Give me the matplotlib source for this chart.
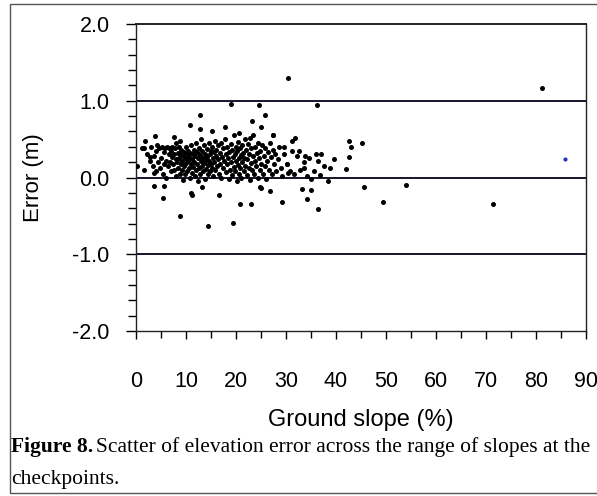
import matplotlib
matplotlib.use("Agg")
import matplotlib.pyplot as plt
from matplotlib.ticker import MultipleLocator, FormatStrFormatter
from matplotlib.patches import Rectangle

# Ground slope (%) and elevation error (m) at the checkpoints
slope = [
    30.3, 81.1, 18.9, 24.6, 36.2, 12.7, 25.8, 10.7, 25.0, 23.1,
    17.8, 12.8, 27.4, 31.8, 3.7, 7.5, 42.5, 45.1, 43.0, 31.2,
    29.6, 32.6, 37.0, 39.6, 42.6, 41.9, 38.8, 36.3, 33.7, 33.5,
    38.3, 45.6, 54.0, 49.4, 71.3, 36.4, 34.1, 34.9, 33.1, 29.2,
    26.7, 25.0, 23.0, 20.8, 19.4, 14.3, 8.7, 16.5, 10.9, 5.3,
    3.5, 0.2, 1.6, 1.2, 3.5, 1.5, 2.8, 11.1, 13.1, 24.8,
    15.1, 20.5, 22.7, 27.3, 1.7, 8.8, 30.1, 5.5,
    2.2, 2.8, 3.0, 3.3, 3.6, 3.9, 4.0, 4.2, 4.4,
    4.6, 4.8, 5.0, 5.1, 5.3, 5.5, 5.6, 5.8, 5.9, 6.0,
    6.2, 6.3, 6.5, 6.6, 6.8, 6.9, 7.0, 7.1,
    7.2, 7.4, 7.5, 7.6, 7.8, 7.9, 8.0, 8.0,
    8.2, 8.3, 8.4, 8.5, 8.6, 8.7, 8.8, 8.9, 9.0,
    9.1, 9.2, 9.3, 9.4, 9.5, 9.6, 9.7, 9.8, 9.9, 10.0,
    10.1, 10.2, 10.3, 10.4, 10.5, 10.6, 10.7, 10.8, 10.9, 11.0,
    11.1, 11.2, 11.3, 11.4, 11.5, 11.6, 11.7, 11.8, 11.9, 12.0,
    12.1, 12.2, 12.3, 12.4, 12.5, 12.6, 12.7, 12.8, 12.9, 13.0,
    13.1, 13.2, 13.3, 13.4, 13.5, 13.6, 13.7, 13.8, 13.9, 14.0,
    14.1, 14.2, 14.3, 14.4, 14.5, 14.6, 14.7, 14.8, 14.9, 15.0,
    15.1, 15.2, 15.3, 15.4, 15.5, 15.6, 15.7, 15.8, 15.9, 16.0,
    16.1, 16.3, 16.4, 16.5, 16.7, 16.8, 16.9, 17.0,
    17.1, 17.3, 17.4, 17.6, 17.7, 17.9, 18.0,
    18.1, 18.2, 18.4, 18.5, 18.6, 18.8, 18.9, 19.0,
    19.1, 19.2, 19.4, 19.5, 19.6, 19.7, 19.8, 19.9, 20.0,
    20.1, 20.2, 20.3, 20.4, 20.5, 20.6, 20.7, 20.8, 20.9, 21.0,
    21.1, 21.2, 21.3, 21.5, 21.6, 21.7, 21.8, 22.0,
    22.1, 22.2, 22.4, 22.5, 22.6, 22.8, 22.9, 23.0,
    23.1, 23.3, 23.4, 23.5, 23.7, 23.8, 24.0,
    24.1, 24.3, 24.4, 24.5, 24.7, 24.8, 25.0,
    25.2, 25.3, 25.5, 25.7, 25.8, 26.0,
    26.2, 26.4, 26.5, 26.7, 26.9,
    27.1, 27.3, 27.5, 27.8, 28.0,
    28.3, 28.6, 28.9, 29.2, 29.6,
    30.1, 30.4, 30.8, 31.2, 31.6,
    32.2, 32.8, 33.5, 34.1, 34.6, 35.0,
    35.5, 36.0, 36.8, 37.5,
]
error = [
    1.29, 1.17, 0.96, 0.95, 0.95, 0.81, 0.81, 0.68, 0.66, 0.73,
    0.66, 0.63, 0.56, 0.52, 0.54, 0.53, 0.48, 0.45, 0.40, 0.47,
    0.40, 0.34, 0.31, 0.24, 0.27, 0.11, 0.12, 0.22, 0.28, 0.13,
    -0.05, -0.13, -0.10, -0.32, -0.35, -0.41, -0.28, -0.16, -0.15, -0.32,
    -0.18, -0.14, -0.34, -0.35, -0.59, -0.63, -0.50, -0.23, -0.20, -0.27,
    -0.11, 0.15, 0.10, 0.39, 0.06, 0.38, 0.27, -0.23, -0.12, -0.13,
    0.60, 0.58, 0.51, 0.56, 0.47, 0.47, 0.18, -0.11,
    0.30, 0.22, 0.40, 0.15, 0.28, 0.35, 0.08, 0.42, 0.20,
    0.38, 0.12, 0.25, 0.40, 0.05, 0.33, 0.18, 0.38, 0.00, 0.22,
    0.40, 0.15, 0.30, 0.38, 0.20, 0.08, 0.35, 0.27,
    0.40, 0.18, 0.10, 0.30, 0.38, 0.24, 0.02, 0.45,
    0.20, 0.32, 0.12, 0.40, 0.25, 0.05, 0.30, 0.17, 0.36,
    0.22, 0.10, 0.28, -0.03, 0.33, 0.15, 0.25, 0.05, 0.40, 0.19,
    0.30, 0.08, 0.35, 0.22, 0.12, 0.27, 0.00, 0.32, 0.17, 0.42,
    0.24, 0.06, 0.30, 0.14, 0.36, 0.20, 0.02, 0.28, 0.10, 0.45,
    0.18, 0.33, 0.25, -0.04, 0.38, 0.12, 0.29, 0.05, 0.21, 0.50,
    0.15, 0.34, 0.26, 0.08, 0.42, 0.19, -0.02, 0.31, 0.23, 0.11,
    0.37, 0.27, 0.04, 0.16, 0.45, 0.22, 0.30, 0.09, 0.35, 0.18,
    0.40, 0.13, 0.26, 0.02, 0.33, 0.20, 0.48, 0.10, 0.28, 0.36,
    0.15, 0.42, 0.24, 0.05, 0.32, 0.18, 0.45, 0.00,
    0.27, 0.38, 0.12, 0.22, 0.50, 0.07, 0.30,
    0.17, 0.40, 0.25, -0.02, 0.33, 0.10, 0.44, 0.20,
    0.36, 0.03, 0.27, 0.14, 0.55, 0.30, 0.08, 0.40, 0.22,
    -0.04, 0.34, 0.16, 0.46, 0.25, 0.05, 0.38, 0.12, 0.29, 0.00,
    0.42, 0.20, 0.32, 0.08, 0.26, 0.50, 0.15, 0.36,
    0.03, 0.24, 0.44, 0.12, 0.30, -0.03, 0.19, 0.38,
    0.10, 0.28, 0.55, 0.05, 0.22, 0.40, 0.15,
    0.32, 0.00, 0.45, 0.25, 0.10, 0.35, 0.18,
    0.42, 0.05, 0.28, 0.15, 0.38, -0.02,
    0.22, 0.33, 0.10, 0.45, 0.27,
    0.05, 0.36, 0.18, 0.30, 0.08,
    0.24, 0.40, 0.12, 0.02, 0.30,
    0.18, 0.06, 0.08, 0.35, 0.05,
    0.28, 0.10, 0.20, 0.02, 0.25, -0.02,
    0.08, 0.30, 0.03, 0.15,
]

# one point printed in blue in the original
blue_slope = [85.7]
blue_error = [0.24]

fig = plt.figure(figsize=(5.97, 4.96), dpi=100)
ax = fig.add_axes([136 / 597, 1 - 331 / 496, 450 / 597, 307 / 496])

ax.scatter(slope, error, s=13, color="black", linewidths=0, zorder=3)
ax.scatter(blue_slope, blue_error, s=9, color="#2233cc", linewidths=0, zorder=3)

for yv in [1.0, 0.0, -1.0]:
    ax.axhline(yv, color="#15152a", lw=1.4, zorder=2)

ax.set_xlim(0, 90)
ax.set_ylim(-2.0, 2.0)
ax.xaxis.set_major_locator(MultipleLocator(10))
ax.xaxis.set_minor_locator(MultipleLocator(5))
ax.yaxis.set_major_locator(MultipleLocator(1.0))
ax.yaxis.set_minor_locator(MultipleLocator(0.2))
ax.yaxis.set_major_formatter(FormatStrFormatter("%.1f"))

ax.tick_params(axis="x", which="major", length=6, width=1, direction="out", pad=23,
               labelsize=15.5)
ax.tick_params(axis="x", which="minor", length=5, width=1, direction="out")
ax.tick_params(axis="y", which="major", length=7, width=1, direction="out", pad=12,
               labelsize=15.5)
ax.tick_params(axis="y", which="minor", length=6, width=1, direction="out")
for lab in ax.get_xticklabels() + ax.get_yticklabels():
    lab.set_family("Liberation Sans")

for sp in ax.spines.values():
    sp.set_linewidth(1.0)
    sp.set_color("#222222")
ax.spines["top"].set_linewidth(1.4)

ax.set_xlabel("Ground slope (%)", fontsize=17, family="Liberation Sans", labelpad=12)
ax.set_ylabel("Error (m)", fontsize=16, family="Liberation Sans", labelpad=20)

# caption
fig.canvas.draw()
t1 = fig.text(11 / 597, 1 - 452 / 496, "Figure 8.", family="Liberation Serif",
              fontsize=15.5, fontweight="bold", va="baseline")
fig.canvas.draw()
bb = t1.get_window_extent()
fig.text((bb.x1 + 3) / 597, 1 - 452 / 496,
         "Scatter of elevation error across the range of slopes at the",
         family="Liberation Serif", fontsize=15.5, va="baseline")
fig.text(11 / 597, 1 - 484 / 496, "checkpoints.", family="Liberation Serif",
         fontsize=15.5, va="baseline")

# frame around the figure
fig.patches.append(Rectangle((10 / 597, 3 / 496), 600 / 597, 489 / 496,
                             transform=fig.transFigure, fill=False,
                             edgecolor="#555555", lw=1.0))

fig.savefig("out.png", dpi=100)
